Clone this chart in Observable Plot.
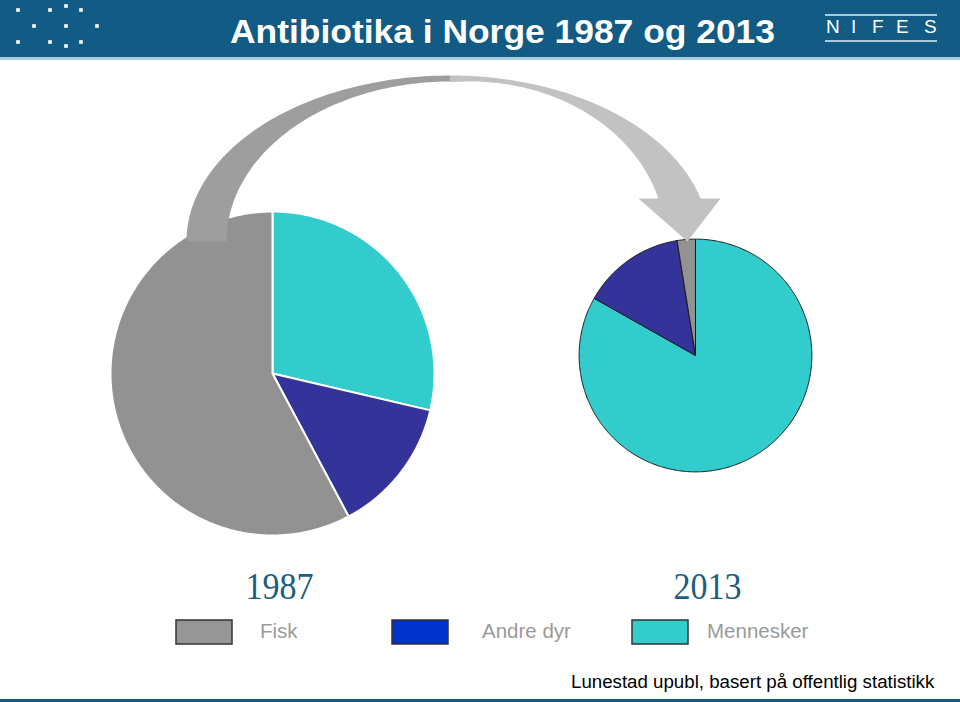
<!DOCTYPE html>
<html>
<head>
<meta charset="utf-8">
<script src="https://cdn.jsdelivr.net/npm/d3@7"></script>
<script src="https://cdn.jsdelivr.net/npm/@observablehq/plot@0.6"></script>
<style>
  html, body { margin: 0; padding: 0; background: #fff; }
  body { width: 960px; height: 702px; position: relative; overflow: hidden; font-family: "Liberation Sans", Arial, sans-serif; }
  #header { position: absolute; left: 0; top: 0; }
  #chart { position: absolute; left: 0; top: 60px; }
  #footer { position: absolute; left: 0; top: 610px; }
</style>
</head>
<body>
<svg id="header" width="960" height="60">
  <rect x="0" y="0" width="960" height="57" fill="#115b84"></rect>
  <rect x="0" y="57" width="960" height="3" fill="#a9cbdd"></rect>
  <g id="dots" fill="#ffffff"></g>
  <text x="230" y="43" fill="#ffffff" font-family="'Liberation Sans', Arial, sans-serif" font-weight="bold" font-size="33" textLength="545" lengthAdjust="spacingAndGlyphs">Antibiotika i Norge 1987 og 2013</text>
  <line x1="825" x2="937" y1="15" y2="15" stroke="#e6eef4" stroke-width="1.5"></line>
  <text x="826 851 872 896 924" y="33" fill="#ffffff" font-family="'Liberation Sans', Arial, sans-serif" font-size="19">NIFES</text>
  <line x1="825" x2="937" y1="41" y2="41" stroke="#e6eef4" stroke-width="1.5"></line>
</svg>
<div id="chart"></div>
<svg id="footer" width="960" height="92"></svg>
<script>
// ---------- data ----------
const categories = ["Mennesker", "Andre dyr", "Fisk"];   // clockwise from 12 o'clock
const years = ["1987", "2013"];
const values1987 = [24.1, 11.4, 48.6];
const values2013 = [36.1, 6.2, 1.1];
const legendLabels = ["Fisk", "Andre dyr", "Mennesker"];
const captionText = "Lunestad upubl, basert på offentlig statistikk";

// ---------- layout / style config ----------
const seriesByYear = {"1987": values1987, "2013": values2013};
const pieCenter = {"1987": [272, 373], "2013": [695, 355]};
const yearLabelX = {"1987": 279, "2013": 707};
const maxRadius = 162;
const pieColors = ["#33cccc", "#333399", "#929292"];
const legendColors = {"Fisk": "#969696", "Andre dyr": "#0033cc", "Mennesker": "#33cccc"};
const legendBoxX = [176, 392, 632];
const legendLabelX = [260, 482, 707];
const top0 = 60, H = 550;

// header logo dots
const dotPos = [[18,10],[50,10],[66,6],[81,10],[34,26],[66,26],[97,26],[18,42],[50,42],[66,46],[81,42]];
d3.select("#dots").selectAll("rect").data(dotPos).join("rect")
  .attr("x", d => d[0] - 1.8).attr("y", d => d[1] - 1.8).attr("width", 3.6).attr("height", 3.6);

// ---------- pie geometry ----------
const totals = years.map(y => d3.sum(seriesByYear[y]));
const rScale = Plot.scale({r: {type: "sqrt", domain: [0, d3.max(totals)], range: [0, maxRadius]}});
const slices = [];
years.forEach(yr => {
  const [cx, cy] = pieCenter[yr];
  const r = rScale.apply(d3.sum(seriesByYear[yr]));
  const arcs = d3.pie().sort(null)(seriesByYear[yr]);
  arcs.forEach((a, i) => {
    const key = yr + "-" + categories[i];
    const base = {key, year: yr, category: categories[i]};
    slices.push({...base, x: cx, y: cy});
    const n = Math.max(2, Math.ceil((a.endAngle - a.startAngle) / 0.01));
    for (let k = 0; k <= n; k++) {
      const t = a.startAngle + (a.endAngle - a.startAngle) * k / n;
      slices.push({...base, x: cx + r * Math.sin(t), y: cy - r * Math.cos(t)});
    }
    slices.push({...base, x: cx, y: cy});
  });
});

// ---------- curved arrow (decoration) ----------
const C = [450, 241];
const arrowLeft = [];
for (let k = 0; k <= 80; k++) { const p = Math.PI / 2 * k / 80; arrowLeft.push({x: C[0] - 264 * Math.cos(p), y: C[1] - 166 * Math.sin(p)}); }
for (let k = 80; k >= 0; k--) { const p = Math.PI / 2 * k / 80; arrowLeft.push({x: C[0] - 224 * Math.cos(p), y: C[1] - 160 * Math.sin(p)}); }
const arrowRight = [];
const headY = 198;
const po = Math.asin((C[1] - headY) / 166);
for (let k = 0; k <= 80; k++) { const p = Math.PI / 2 - (Math.PI / 2 - po) * k / 80; arrowRight.push({x: C[0] + 259 * Math.cos(p), y: C[1] - 166 * Math.sin(p)}); }
arrowRight.push({x: 720, y: headY}, {x: 687, y: 241}, {x: 638, y: headY});
const Ci = [470, 241];
const pi0 = Math.asin((Ci[1] - headY) / 160);
const pi1 = Math.acos(-(Ci[0] - 450) / 195);
for (let k = 0; k <= 80; k++) { const p = pi0 + (pi1 - pi0) * k / 80; arrowRight.push({x: Ci[0] + 195 * Math.cos(p), y: Ci[1] - 160 * Math.sin(p)}); }

// ---------- plot ----------
const plot = Plot.plot({
  width: 960, height: H,
  marginTop: 0, marginRight: 0, marginBottom: 0, marginLeft: 0,
  style: {background: "transparent", overflow: "visible"},
  x: {domain: [0, 960], range: [0, 960], axis: null},
  y: {domain: [top0, top0 + H], range: [0, H], axis: null},
  color: {domain: categories, range: pieColors},
  marks: [
    Plot.line(slices.filter(d => d.year === "1987"), {x: "x", y: "y", z: "key", fill: "category", stroke: "#ffffff", strokeWidth: 2, strokeLinejoin: "round"}),
    Plot.line(slices.filter(d => d.year === "2013"), {x: "x", y: "y", z: "key", fill: "category", stroke: "#1a1a1a", strokeWidth: 1, strokeLinejoin: "round"}),
    Plot.line(arrowLeft, {x: "x", y: "y", fill: "#9e9e9e", stroke: "none"}),
    Plot.line(arrowRight, {x: "x", y: "y", fill: "#c2c2c2", stroke: "none"}),
    Plot.text(years, {x: d => yearLabelX[d], y: 598, text: d => d, lineAnchor: "bottom", textAnchor: "middle",
      fontFamily: "'Liberation Serif', 'Times New Roman', serif", fontSize: 37, fill: "#1b5e80"})
  ]
});
document.getElementById("chart").appendChild(plot);
d3.select(plot).selectAll("text").filter(function() { return years.includes(this.textContent); })
  .attr("textLength", 68).attr("lengthAdjust", "spacingAndGlyphs");

// ---------- legend + caption ----------
const footer = d3.select("#footer");
const oy = 610;
legendLabels.forEach((lab, i) => {
  footer.append("rect").attr("x", legendBoxX[i]).attr("y", 620 - oy).attr("width", 56).attr("height", 24)
    .attr("fill", legendColors[lab]).attr("stroke", "#333").attr("stroke-width", 1.5);
  footer.append("text").attr("x", legendLabelX[i]).attr("y", 638 - oy).text(lab)
    .attr("font-family", "'Liberation Sans', Arial, sans-serif").attr("font-size", 20.5).attr("fill", "#9a9a9a");
});
footer.append("text").attr("x", 571).attr("y", 688 - oy).text(captionText)
  .attr("font-family", "'Liberation Sans', Arial, sans-serif").attr("font-size", 18.7).attr("fill", "#000");
footer.append("rect").attr("x", 0).attr("y", 699 - oy).attr("width", 960).attr("height", 3).attr("fill", "#115b84");
</script>
</body>
</html>
